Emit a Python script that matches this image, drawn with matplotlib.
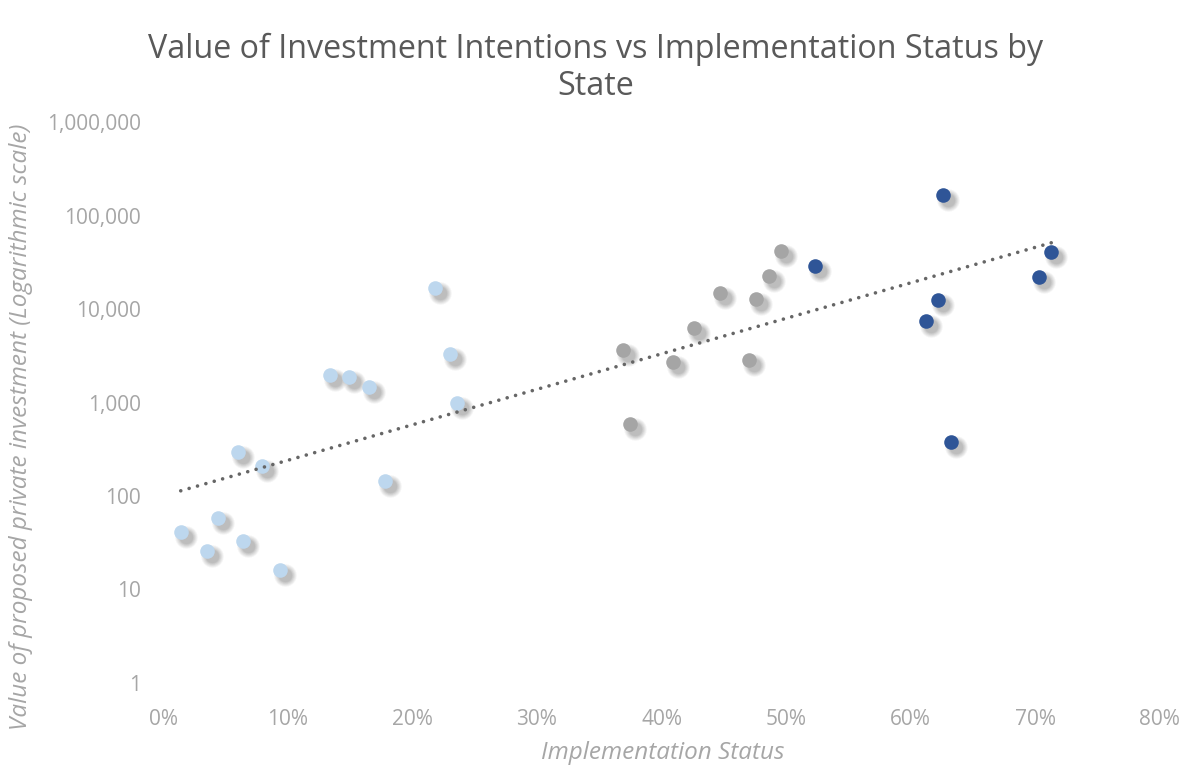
import numpy as np
import matplotlib
matplotlib.use("Agg")
import matplotlib.pyplot as plt
from matplotlib.ticker import FuncFormatter, FixedLocator
from matplotlib.transforms import offset_copy

plt.rcParams['font.family'] = ['Open Sans', 'DejaVu Sans']

# Data (implementation status, value of proposed private investment)
low_x = [0.014, 0.035, 0.044, 0.060, 0.064, 0.079, 0.094, 0.134, 0.149, 0.165,
         0.178, 0.218, 0.230, 0.236]
low_y = [41, 26, 58, 295, 33, 210, 16, 1970, 1870, 1460, 145, 16800, 3300, 990]

mid_x = [0.369, 0.375, 0.409, 0.426, 0.447, 0.470, 0.476, 0.486, 0.496]
mid_y = [3650, 590, 2710, 6270, 14800, 2850, 12800, 22500, 41700]

high_x = [0.523, 0.612, 0.622, 0.626, 0.632, 0.703, 0.713]
high_y = [28800, 7450, 12500, 165000, 378, 22000, 40700]

x_ticks = [0, 0.1, 0.2, 0.3, 0.4, 0.5, 0.6, 0.7, 0.8]
y_ticks = [1, 10, 100, 1000, 10000, 100000, 1000000]

colors = ['#BDD7EE', '#A5A5A5', '#2F5597']

fig = plt.figure(figsize=(11.92, 7.69), dpi=100)
ax = fig.add_axes([0.137, 0.112, 0.836, 0.729])
ax.set_yscale('log')
ax.set_xlim(0, 0.8)
ax.set_ylim(1, 1000000)

series = [(low_x, low_y), (mid_x, mid_y), (high_x, high_y)]
# soft drop shadows
shadow_layers = [(s, 0.05) for s in (260, 220, 185, 155, 130, 110, 90)]
for xs, ys in series:
    for s, a in shadow_layers:
        tr = offset_copy(ax.transData, fig=fig, x=5, y=-5, units='dots')
        ax.scatter(xs, ys, s=s, color='#303030', alpha=a, linewidths=0, transform=tr, zorder=2)
for (xs, ys), c in zip(series, colors):
    ax.scatter(xs, ys, s=110, color=c, linewidths=0, zorder=3)

# exponential trendline fitted to all points
all_x = np.array(low_x + mid_x + high_x)
all_y = np.array(low_y + mid_y + high_y)
b, a0 = np.polyfit(all_x, np.log(all_y), 1)
tx = np.linspace(all_x.min(), all_x.max(), 100)
ax.plot(tx, np.exp(a0 + b * tx), linestyle=(0, (0.01, 2.4)), color='#666666', linewidth=2.6,
        zorder=4, dash_capstyle='round')

ax.xaxis.set_major_locator(FixedLocator(x_ticks))
ax.yaxis.set_major_locator(FixedLocator(y_ticks))
ax.yaxis.set_minor_locator(FixedLocator([]))
ax.xaxis.set_major_formatter(FuncFormatter(lambda v, p: f"{v*100:.0f}%"))
ax.yaxis.set_major_formatter(FuncFormatter(lambda v, p: f"{v:,.0f}"))
for sp in ax.spines.values():
    sp.set_visible(False)
ax.tick_params(length=0, labelsize=15, labelcolor='#A6A6A6')
ax.tick_params(axis='x', pad=19)
ax.tick_params(axis='y', pad=16)

fig.text(663 / 1192, 1 - 753 / 769, 'Implementation Status', fontsize=17.5, color='#A6A6A6',
         style='italic', ha='center', va='center')
fig.text(21 / 1192, 1 - 427 / 769, 'Value of proposed private investment (Logarithmic scale)',
         fontsize=17.5, color='#A6A6A6', style='italic', ha='center', va='center',
         rotation=90)
fig.text(0.5, 1 - 68 / 769, 'Value of Investment Intentions vs Implementation Status by\nState',
         ha='center', va='center', fontsize=23.2, color='#595959', linespacing=1.15)

fig.savefig('out.png', dpi=100)
